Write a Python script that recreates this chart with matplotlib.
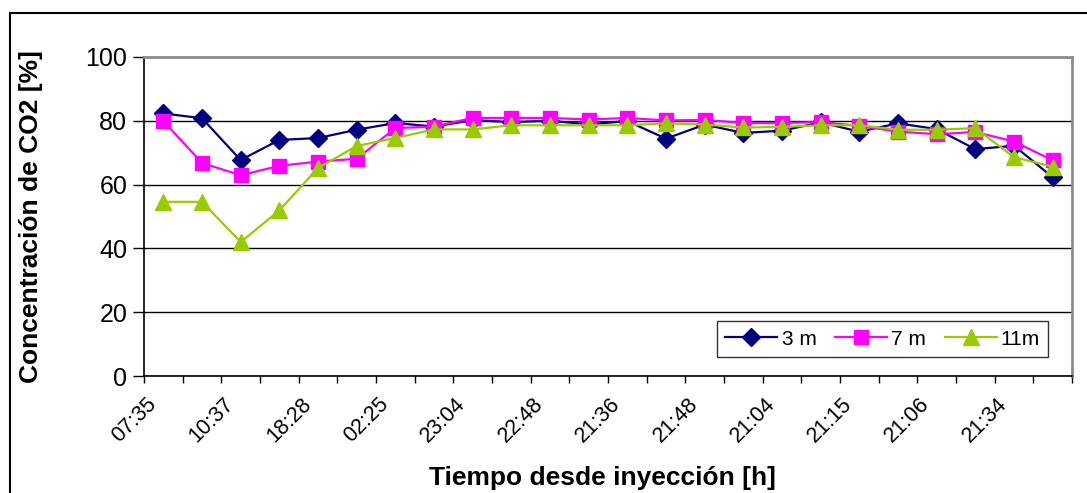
import matplotlib
matplotlib.use("Agg")
import matplotlib.pyplot as plt
from matplotlib.lines import Line2D
import matplotlib.transforms as mtransforms
import numpy as np

# CO2 concentration [%] at three depths, one reading per sample
conc_3m = [82.3, 80.8, 67.7, 74.0, 74.6, 77.2, 79.3, 78.2, 80.2, 79.6, 80.0, 78.9,
           79.9, 74.4, 78.8, 76.2, 76.9, 79.5, 76.6, 79.2, 77.4, 71.1, 72.2, 62.3]
conc_7m = [79.9, 66.8, 62.9, 65.9, 67.2, 68.1, 77.7, 78.2, 80.9, 80.9, 80.9, 80.4,
           80.9, 80.1, 80.3, 79.3, 79.3, 79.6, 78.4, 76.6, 75.8, 76.5, 73.5, 67.6]
conc_11m = [54.6, 54.6, 42.0, 51.9, 65.2, 72.1, 74.6, 77.3, 77.3, 78.6, 78.6, 78.6,
            78.6, 79.2, 78.8, 77.9, 78.1, 78.6, 78.6, 77.2, 77.2, 77.7, 68.6, 65.6]
# elapsed-time labels, shown on every second sample
time_labels = ["07:35", "10:37", "18:28", "02:25", "23:04", "22:48",
               "21:36", "21:48", "21:04", "21:15", "21:06", "21:34"]

plt.rcParams['font.family'] = ['Liberation Sans', 'DejaVu Sans']

fig = plt.figure(figsize=(10.87, 4.93), dpi=100)
ax = fig.add_axes([144 / 1087, 1 - 376 / 493, 928 / 1087, 319 / 493])

x = np.arange(len(conc_3m))
ax.plot(x, conc_3m, color='#000080', marker='D', markersize=9, lw=1.6, label='3 m')
ax.plot(x, conc_7m, color='#FF00FF', marker='s', markersize=10, lw=1.6, label='7 m')
ax.plot(x, conc_11m, color='#99CC00', marker='^', markersize=11, lw=1.6, label='11m')

ax.set_xlim(-0.5, len(x) - 0.5)
ax.set_ylim(0, 100)
ax.set_yticks(range(0, 101, 20))
ax.grid(axis='y', color='black', lw=1)
ax.set_axisbelow(True)

# category labels at every other sample, tick marks on category borders
ax.set_xticks(x[::2])
ax.set_xticklabels(time_labels, rotation=45, ha='right', va='center',
                   rotation_mode='anchor', fontsize=15.5)
ax.tick_params(axis='x', which='major', length=0, pad=18)
shift = mtransforms.ScaledTranslation(-10 / 100, 0, fig.dpi_scale_trans)
for lbl in ax.get_xticklabels():
    lbl.set_transform(lbl.get_transform() + shift)
ax.set_xticks(np.arange(-0.5, len(x)), minor=True)
ax.tick_params(axis='x', which='minor', length=5, width=1, direction='out')
ax.tick_params(axis='y', length=8, width=1, labelsize=18, pad=4)

for side in ('left', 'bottom'):
    ax.spines[side].set_color('black')
    ax.spines[side].set_linewidth(1.2)
for side in ('top', 'right'):
    ax.spines[side].set_color('#8c8c8c')
    ax.spines[side].set_linewidth(2)

ax.set_ylabel('Concentración de CO2 [%]', fontsize=19, fontweight='bold')
ax.yaxis.set_label_coords(-0.109, 0.5)
ax.set_xlabel('Tiempo desde inyección [h]', fontsize=19, fontweight='bold')
ax.xaxis.set_label_coords(0.4935, -0.282)

leg = ax.legend(loc='lower left', bbox_to_anchor=(0.6175, 0.06, 0.357, 0.132),
                mode='expand', ncol=3, fontsize=15, frameon=True, fancybox=False,
                handlelength=2.5, handletextpad=0.2, borderaxespad=0, borderpad=0.4,
                columnspacing=1.0)
leg.get_frame().set_edgecolor('black')
leg.get_frame().set_linewidth(1)

# outer chart border
fig.add_artist(Line2D([10 / 1087, 1], [1 - 13 / 493, 1 - 13 / 493],
                      transform=fig.transFigure, color='black', lw=1.5))
fig.add_artist(Line2D([10 / 1087, 10 / 1087], [0, 1 - 13 / 493],
                      transform=fig.transFigure, color='black', lw=1.5))

fig.savefig('out.png', dpi=100)
